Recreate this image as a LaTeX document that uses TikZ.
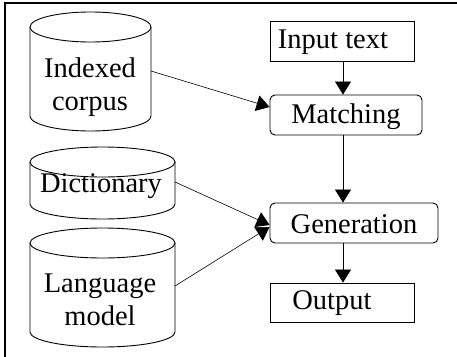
\documentclass[tikz,border=0pt]{standalone}
\usepackage{fontspec}
\setmainfont{Liberation Serif}
\usetikzlibrary{arrows.meta}

% cylinder: left x, right x, top y, bottom y (y measured downwards), cap half-height
\newcommand{\drumshape}[5]{%
  \pgfmathsetmacro{\rx}{(#2-#1)/2}%
  \pgfmathsetmacro{\cx}{(#1+#2)/2}%
  \draw[boxline] (\cx,-#3-#5) ellipse [x radius=\rx, y radius=#5];
  \draw[boxline] (#1,-#3-#5) -- (#1,-#4+#5)
    arc [start angle=180, end angle=360, x radius=\rx, y radius=#5]
    -- (#2,-#3-#5);
}

\begin{document}
\begin{tikzpicture}[x=1pt,y=1pt,
  boxline/.style={line width=0.9pt},
  txt/.style={font=\fontsize{28.5}{33.5}\selectfont, inner sep=0pt, align=center},
  plainbox/.style={boxline, draw, rectangle, inner sep=0pt},
  roundbox/.style={plainbox, rounded corners=5pt},
  link/.style={line width=0.6pt, -{Triangle[length=13pt,width=16pt]}}]

\useasboundingbox (0,0) rectangle (457,-356);

% frame (left and top edges)
\draw[line width=1.8pt] (5,-358) -- (5,-3) -- (459,-3);

% data stores
\drumshape{30}{151}{12}{131}{15}
\drumshape{30}{175}{147}{219}{15}
\drumshape{30}{175}{228}{347}{15}
\node[txt] (corpus) at (90,-87) {Indexed\\corpus};
\node[txt, anchor=base] (dict) at (101,-192) {Dictionary};
\node[txt] (lm) at (100,-300) {Language\\model};
\coordinate (corpusE) at (151,-71);
\coordinate (dictE) at (175,-182);
\coordinate (lmE) at (175,-286);

% processing steps
\node[plainbox, minimum width=144pt, minimum height=40pt] (input) at (342,-41) {};
\node[roundbox, minimum width=152pt, minimum height=40pt] (matching) at (346,-115) {};
\node[roundbox, minimum width=168pt, minimum height=40pt] (generation) at (354,-223) {};
\node[plainbox, minimum width=144pt, minimum height=39pt] (output) at (342,-302.5) {};

\node[txt, anchor=base] (inputT) at (333,-48) {Input text};
\node[txt, anchor=base] (matchingT) at (346,-123) {Matching};
\node[txt, anchor=base] (generationT) at (354,-233) {Generation};
\node[txt, anchor=base] (outputT) at (332,-309) {Output};

% connectors
\coordinate (spine) at (343,0);
\draw[link] (spine |- input.south) -- (spine |- matching.north);
\draw[link] (spine |- matching.south) -- (spine |- generation.north);
\draw[link] (spine |- generation.south) -- (spine |- output.north);

\coordinate (matchIn) at ([yshift=8pt]matching.west);
\coordinate (dictIn) at ([yshift=-2pt]generation.west);
\coordinate (lmIn) at ([yshift=-4pt]generation.west);
\draw[link] (corpusE) -- (matchIn);
\draw[link] (dictE) -- (dictIn);
\draw[link] (lmE) -- (lmIn);
\end{tikzpicture}
\end{document}
